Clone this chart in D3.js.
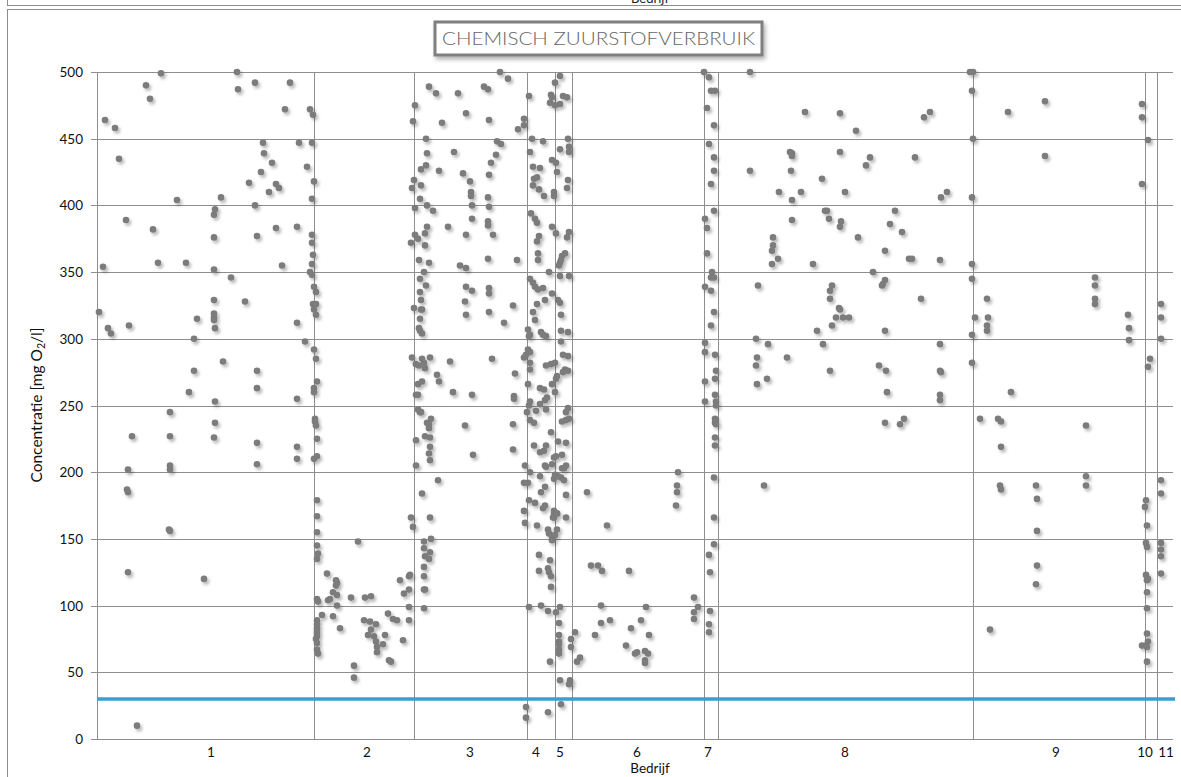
<!DOCTYPE html>
<html><head><meta charset="utf-8">
<script src="https://cdn.jsdelivr.net/npm/d3@7"></script>
<style>body{margin:0;background:#fff;overflow:hidden} svg{display:block}</style>
</head><body>
<svg id="c" width="1181" height="777"></svg>
<script>
// ---- data: [sample position, COD mg O2/l] per company ----
const bedrijf1 = [[2,320],[6,354],[8,464],[11,308],[14,304],[18,458],[22,435],[29,389],[30,187],[31,185],[31,202],[31,125],[32,310],[35,227],[40,10],[49,490],[53,480],[56,382],[61,357],[64,499],[72,157],[73,156],[73,245],[73,227],[73,205],[73,202],[80,404],[89,357],[92,260],[97,300],[97,276],[100,315],[107,120],[117,352],[117,376],[117,393],[118,397],[117,329],[117,319],[117,316],[117,314],[118,308],[117,226],[118,253],[118,237],[124,406],[126,283],[134,346],[140,500],[141,487],[148,328],[152,417],[158,492],[158,400],[160,377],[160,276],[160,263],[160,222],[160,206],[164,425],[166,447],[167,439],[172,410],[175,432],[179,416],[179,383],[182,413],[185,355],[188,472],[193,492],[200,384],[200,312],[200,255],[200,219],[200,210],[202,447],[208,298],[210,429],[213,472],[213,350],[215,447],[215,405],[215,378],[215,372],[215,356],[215,348],[216,468],[216,363],[216,326]];
const bedrijf2 = [[217,418],[217,339],[219,335],[217,322],[219,326],[219,318],[217,292],[219,285],[220,268],[217,263],[217,260],[218,240],[218,238],[219,235],[220,225],[217,210],[220,212],[220,179],[220,167],[220,155],[220,145],[221,139],[220,135],[220,105],[221,103],[225,93],[220,89],[220,86],[220,83],[220,81],[220,79],[220,77],[219,75],[220,72],[220,67],[221,64],[230,124],[239,119],[240,117],[239,115],[236,110],[240,108],[231,104],[233,105],[240,100],[236,92],[243,83],[261,148],[254,106],[268,106],[274,107],[257,55],[257,46],[267,89],[273,88],[279,86],[274,82],[271,78],[277,77],[279,73],[280,69],[280,65],[286,71],[288,78],[291,94],[296,90],[300,89],[292,59],[294,58],[306,74],[303,119],[307,109],[312,112],[312,99],[312,89],[312,122],[313,123],[314,166],[316,159],[315,286],[314,372],[315,413],[316,463]];
const bedrijf3 = [[317,323],[317,419],[318,475],[332,489],[339,484],[361,484],[345,462],[329,450],[330,439],[357,440],[329,430],[324,427],[342,426],[324,415],[323,405],[318,398],[330,400],[336,396],[330,384],[351,384],[318,378],[321,375],[328,379],[328,370],[322,359],[332,357],[327,350],[323,345],[329,340],[323,335],[363,355],[324,329],[325,322],[324,322],[323,315],[322,308],[323,306],[325,304],[325,285],[333,286],[327,282],[319,281],[322,280],[328,278],[353,283],[340,273],[342,268],[356,260],[321,266],[325,268],[319,258],[321,258],[321,247],[323,245],[324,245],[334,240],[330,237],[332,236],[332,233],[319,224],[328,227],[333,226],[333,219],[332,214],[333,209],[319,205],[341,194],[325,184],[333,166],[327,148],[327,143],[334,150],[333,140],[328,137],[332,135],[327,129],[327,122],[327,112],[328,112],[327,98],[403,500],[411,495],[387,489],[391,487],[369,469],[392,464],[427,465],[427,460],[421,457],[400,448],[404,446],[399,438],[394,432],[366,424],[392,423],[373,418],[374,410],[374,407],[391,406],[375,400],[392,399],[375,390],[391,388],[391,385],[369,378],[396,378],[391,360],[420,359],[369,353],[369,339],[375,336],[392,338],[392,334],[368,328],[369,318],[392,320],[416,325],[407,312],[395,285],[418,274],[375,258],[417,257],[417,255],[368,235],[416,236],[376,213],[416,217],[428,162],[427,171],[428,205],[427,192],[427,286],[429,288],[429,24],[429,16]];
const bedrijf4 = [[432,482],[435,450],[446,448],[433,440],[436,429],[443,428],[437,420],[440,421],[436,415],[442,412],[447,407],[457,410],[457,407],[434,394],[438,390],[440,387],[442,377],[440,373],[441,364],[441,359],[452,350],[433,345],[436,342],[438,339],[441,337],[446,338],[455,334],[440,326],[436,320],[448,329],[438,314],[431,307],[432,302],[433,303],[444,305],[446,303],[449,302],[431,292],[433,290],[433,282],[433,277],[449,280],[454,281],[431,266],[443,263],[447,262],[455,266],[450,256],[448,254],[433,253],[432,250],[430,245],[443,251],[439,246],[449,247],[433,239],[437,237],[454,230],[437,220],[443,215],[447,216],[449,220],[448,205],[449,204],[433,200],[443,197],[431,192],[448,189],[444,185],[432,179],[438,177],[446,173],[448,175],[455,206],[457,211],[440,160],[451,157],[452,154],[455,152],[455,149],[457,169],[457,166],[442,138],[453,134],[442,126],[451,128],[452,125],[454,122],[454,114],[444,100],[451,96],[432,99],[453,58],[451,20],[454,483],[455,481],[453,477],[455,434],[455,384],[457,195],[457,171],[456,166]];
const bedrijf5 = [[463,497],[458,492],[466,482],[470,481],[458,475],[463,476],[471,450],[472,444],[472,440],[463,442],[459,432],[460,425],[471,419],[470,413],[459,379],[472,380],[470,376],[468,364],[465,362],[464,359],[463,357],[462,355],[463,347],[472,347],[461,329],[463,327],[464,318],[464,306],[471,305],[464,298],[466,288],[471,287],[468,277],[471,276],[466,275],[460,272],[459,270],[458,260],[458,282],[471,248],[469,245],[472,240],[469,239],[465,238],[461,223],[469,222],[465,213],[459,212],[469,205],[467,203],[465,203],[458,198],[461,197],[464,196],[467,194],[469,183],[460,169],[469,166],[458,153],[460,157],[460,169],[463,99],[459,95],[462,87],[462,78],[462,73],[462,71],[462,67],[462,64],[463,44],[464,26],[474,75],[474,69],[473,44],[473,42],[472,41]];
const bedrijf6 = [[478,80],[483,61],[480,58],[490,185],[494,130],[501,130],[505,126],[510,160],[532,126],[504,100],[549,99],[513,89],[504,87],[498,78],[544,89],[534,83],[552,78],[529,70],[538,64],[540,65],[548,66],[551,64],[548,59],[548,57],[579,175],[580,185],[580,190],[581,200],[597,106],[601,99],[597,95],[597,90]];
const bedrijf7 = [[607,500],[612,496],[614,486],[618,486],[610,473],[617,460],[612,446],[617,436],[617,426],[614,416],[617,396],[608,390],[610,383],[610,364],[615,350],[614,346],[617,346],[608,339],[614,336],[617,320],[614,310],[608,297],[608,290],[618,288],[619,276],[618,270],[608,268],[618,258],[619,253],[619,250],[608,253],[618,240],[618,237],[619,236],[618,226],[618,220],[617,196],[617,166],[617,146],[612,138],[613,125],[613,96],[612,86],[612,80]];
const bedrijf8 = [[653,500],[708,470],[693,440],[695,439],[695,437],[653,426],[694,426],[725,420],[682,410],[704,410],[695,404],[695,389],[728,396],[676,376],[676,370],[675,366],[681,360],[675,356],[716,356],[661,340],[720,306],[726,296],[659,300],[671,296],[660,286],[690,286],[659,280],[670,270],[660,266],[667,190],[743,469],[759,456],[827,466],[833,470],[743,440],[773,436],[769,430],[818,436],[748,410],[844,406],[850,410],[730,396],[732,390],[744,388],[743,384],[798,396],[793,386],[805,380],[761,376],[788,366],[812,360],[815,360],[843,359],[776,350],[788,344],[785,340],[786,341],[735,340],[733,336],[733,330],[824,330],[742,323],[743,322],[739,316],[746,316],[752,316],[735,310],[788,306],[843,296],[733,276],[782,280],[789,276],[843,276],[844,275],[790,260],[843,258],[843,254],[788,237],[803,236],[807,240],[873,500],[876,500],[875,486],[876,450],[875,406],[875,356],[875,345],[875,303],[875,282]];
const bedrijf9 = [[878,316],[911,470],[948,478],[948,437],[998,346],[998,340],[890,330],[891,316],[890,310],[890,306],[914,260],[883,240],[901,240],[904,238],[904,219],[903,190],[904,187],[939,190],[940,180],[989,235],[989,197],[989,190],[998,330],[998,326],[1031,318],[1032,308],[1032,299],[940,156],[940,130],[939,116],[893,82]];
const bedrijf10 = [[1045,476],[1045,466],[1051,449],[1045,416],[1053,285],[1051,279],[1049,179],[1048,174],[1050,160],[1049,147],[1050,144],[1049,123],[1050,119],[1051,120],[1050,110],[1050,98],[1050,79],[1045,70],[1049,70],[1051,73],[1050,69],[1050,58]];
const bedrijf11 = [[1064,326],[1064,316],[1064,300],[1064,194],[1064,184],[1064,147],[1064,142],[1064,137],[1064,124]];

const bedrijven = ["1","2","3","4","5","6","7","8","9","10","11"];
const labelPositie = [114,270,373,439,463,540,611,748,959,1048,1069];
const grenzen = [217,317,430,458,475,607,621,876,1048,1060];
const yTicks = [0,50,100,150,200,250,300,350,400,450,500];
const norm = 30;
const xMax = 1076;

const series = [bedrijf1,bedrijf2,bedrijf3,bedrijf4,bedrijf5,bedrijf6,bedrijf7,bedrijf8,bedrijf9,bedrijf10,bedrijf11];

// ---- drawing ----
const svg = d3.select('#c');
const FONT = "Lato, 'Open Sans', sans-serif";
const L=97, R=1173, T=72, B=739;
const x = d3.scaleLinear().domain([0,xMax]).range([L,R]);
const y = d3.scaleLinear().domain([0,500]).range([B,T]);

const defs = svg.append('defs');
const f = defs.append('filter').attr('id','sh').attr('x','-50%').attr('y','-50%').attr('width','250%').attr('height','250%');
f.append('feDropShadow').attr('dx',2).attr('dy',2.5).attr('stdDeviation',1.6).attr('flood-color','#000').attr('flood-opacity',0.28);
const f2 = defs.append('filter').attr('id','sh2').attr('x','-10%').attr('y','-30%').attr('width','130%').attr('height','180%');
f2.append('feDropShadow').attr('dx',2).attr('dy',3).attr('stdDeviation',2).attr('flood-color','#000').attr('flood-opacity',0.3);

// frames
svg.append('rect').attr('x',7.5).attr('y',-20).attr('width',1180).attr('height',25.5)
  .attr('fill','#fff').attr('stroke','#8c8c8c').attr('stroke-width',1);
svg.append('text').attr('x',650).attr('y',3).attr('text-anchor','middle')
  .attr('font-family',FONT).attr('font-size',13).attr('fill','#222').text('Bedrijf');
svg.append('rect').attr('x',7.5).attr('y',9.5).attr('width',1180).attr('height',775)
  .attr('fill','#fff').attr('stroke','#8c8c8c').attr('stroke-width',1);

// grid
const gridC = '#8e8e8e';
svg.append('g').selectAll('line').data(yTicks).join('line')
  .attr('x1',L-6).attr('x2',R).attr('y1',d=>Math.round(y(d))+0.5).attr('y2',d=>Math.round(y(d))+0.5)
  .attr('stroke',gridC).attr('stroke-width',1);
// left axis
svg.append('line').attr('x1',L+0.5).attr('x2',L+0.5).attr('y1',T).attr('y2',B).attr('stroke',gridC);
// company boundaries
svg.append('g').selectAll('line').data(grenzen).join('line')
  .attr('x1',d=>Math.round(x(d))+0.5).attr('x2',d=>Math.round(x(d))+0.5)
  .attr('y1',T).attr('y2',B).attr('stroke',gridC).attr('stroke-width',1);

// y tick labels
svg.append('g').selectAll('text').data(yTicks).join('text')
  .attr('x',83).attr('y',d=>y(d)+5).attr('text-anchor','end')
  .attr('font-family',FONT).attr('font-size',13.5).attr('fill','#111').text(d=>d);

// x labels
svg.append('g').selectAll('text').data(bedrijven).join('text')
  .attr('x',(d,i)=>x(labelPositie[i])).attr('y',757).attr('text-anchor','middle')
  .attr('font-family',FONT).attr('font-size',13.5).attr('fill','#111').text(d=>d);

svg.append('text').attr('x',650).attr('y',773).attr('text-anchor','middle')
  .attr('font-family',FONT).attr('font-size',13.5).attr('fill','#111').text('Bedrijf');

// y title
const yt = svg.append('text').attr('transform','translate(42,405) rotate(-90)').attr('text-anchor','middle')
  .attr('font-family',FONT).attr('font-size',15.5).attr('fill','#111');
yt.append('tspan').text('Concentratie [mg O');
yt.append('tspan').attr('font-size',10.5).attr('dy',3).text('2');
yt.append('tspan').attr('dy',-3).text('/l]');

// norm line
svg.append('line').attr('x1',L).attr('x2',R+2).attr('y1',y(norm)).attr('y2',y(norm))
  .attr('stroke','#35a0d6').attr('stroke-width',3.5);

// points
const pts = svg.append('g').attr('filter','url(#sh)');
series.forEach(s=>{
  pts.selectAll(null).data(s).join('circle')
    .attr('cx',d=>x(d[0])).attr('cy',d=>y(d[1])).attr('r',3.3).attr('fill','#7b7b7b');
});

// title
const tg = svg.append('g');
tg.append('rect').attr('x',435).attr('y',22).attr('width',327).attr('height',33)
  .attr('fill','#fff').attr('stroke','#7f7f7f').attr('stroke-width',3).attr('filter','url(#sh2)');
tg.append('text').attr('x',598.5).attr('y',45).attr('text-anchor','middle')
  .attr('font-family',FONT).attr('font-weight',300).attr('font-size',18.5).attr('fill','#666')
  .attr('textLength',313).attr('lengthAdjust','spacingAndGlyphs')
  .text('CHEMISCH ZUURSTOFVERBRUIK');
</script>
</body></html>
